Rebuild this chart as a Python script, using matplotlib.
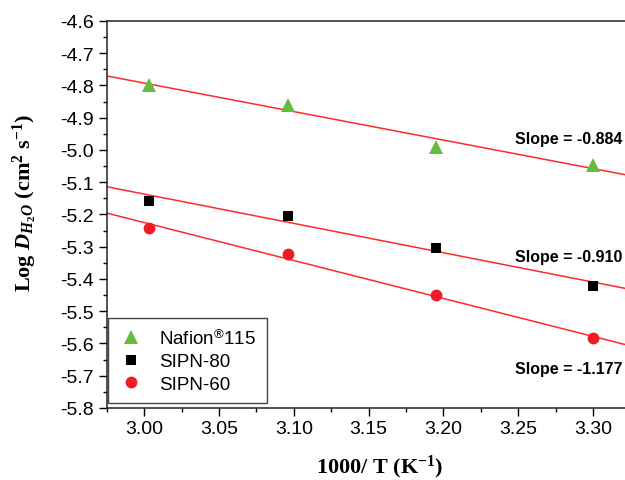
import numpy as np
import matplotlib
matplotlib.use("Agg")
import matplotlib.pyplot as plt
from matplotlib.ticker import MultipleLocator, FormatStrFormatter

plt.rcParams['font.family'] = ['Liberation Sans', 'DejaVu Sans']
plt.rcParams['axes.unicode_minus'] = False
plt.rcParams['mathtext.fontset'] = 'custom'
plt.rcParams['mathtext.rm'] = 'Liberation Serif:bold'
plt.rcParams['mathtext.it'] = 'Liberation Serif:italic:bold'
plt.rcParams['mathtext.bf'] = 'Liberation Serif:bold'
plt.rcParams['mathtext.sf'] = 'Liberation Sans'

# 1000/T for 333, 323, 313, 303 K
inv_t = [3.003, 3.096, 3.195, 3.300]

series_names = ['Nafion$^{\\mathsf{®}}$115', 'SIPN-80', 'SIPN-60']
log_d_nafion = [-4.797, -4.862, -4.990, -5.046]
log_d_sipn80 = [-5.157, -5.205, -5.303, -5.422]
log_d_sipn60 = [-5.242, -5.323, -5.451, -5.583]
slopes = [-0.884, -0.910, -1.177]

markers = ['^', 's', 'o']
marker_sizes = [10, 7.5, 8.5]
colors = ['#66bb3a', '#000000', '#ee1c24']
label_y = [-4.963, -5.329, -5.679]

fig = plt.figure(figsize=(6.25, 4.81), dpi=100)
ax = fig.add_axes([0.1707, 0.1497, 0.874, 0.8046])

x_min, x_max = 2.975, 3.34
xs = np.array([x_min, x_max])

for name, ys, m, ms, c, k, ly in zip(series_names,
                                     [log_d_nafion, log_d_sipn80, log_d_sipn60],
                                     markers, marker_sizes, colors, slopes, label_y):
    # fitted line through the centroid with the reported slope
    b = np.mean(ys) - k * np.mean(inv_t)
    ax.plot(xs, k * xs + b, color='#ff2a2a', lw=1.1, zorder=2)
    ax.plot(inv_t, ys, linestyle='none', marker=m, markersize=ms, color=c,
            markeredgewidth=0, label=name, zorder=3)
    ax.text(3.2475, ly, 'Slope = %.3f' % k, fontsize=11.5, fontweight='bold',
            va='center', ha='left')

ax.set_xlim(x_min, x_max)
ax.set_ylim(-5.8, -4.6)

ax.xaxis.set_major_locator(MultipleLocator(0.05))
ax.xaxis.set_minor_locator(MultipleLocator(0.025))
ax.yaxis.set_major_locator(MultipleLocator(0.1))
ax.yaxis.set_minor_locator(MultipleLocator(0.05))
ax.xaxis.set_major_formatter(FormatStrFormatter('%.2f'))
ax.yaxis.set_major_formatter(FormatStrFormatter('%.1f'))

ax.tick_params(which='major', direction='out', length=6, width=1, labelsize=14, pad=3)
ax.tick_params(which='minor', direction='out', length=3, width=1)
ax.tick_params(top=False, right=False, which='both')

for s in ax.spines.values():
    s.set_linewidth(1.1)
    s.set_color('#222222')
ax.spines['right'].set_visible(False)

ax.set_xlabel('1000/ T (K$^{-1}$)', fontsize=16, fontfamily='Liberation Serif',
              fontweight='bold', labelpad=11)
ax.set_ylabel('Log $D_{H_2O}$ (cm$^{2}$ s$^{-1}$)', fontsize=16,
              fontfamily='Liberation Serif', fontweight='bold')
ax.yaxis.set_label_coords(-0.124, 0.532)

leg = ax.legend(loc='lower left', bbox_to_anchor=(0.002, 0.012), borderaxespad=0,
                fontsize=13.5, frameon=True, fancybox=False, framealpha=1,
                edgecolor='#444444', handlelength=1.4, handletextpad=0.8,
                borderpad=0.55, labelspacing=0.3)
leg.get_frame().set_linewidth(1.0)

fig.savefig('out.png', dpi=100)
